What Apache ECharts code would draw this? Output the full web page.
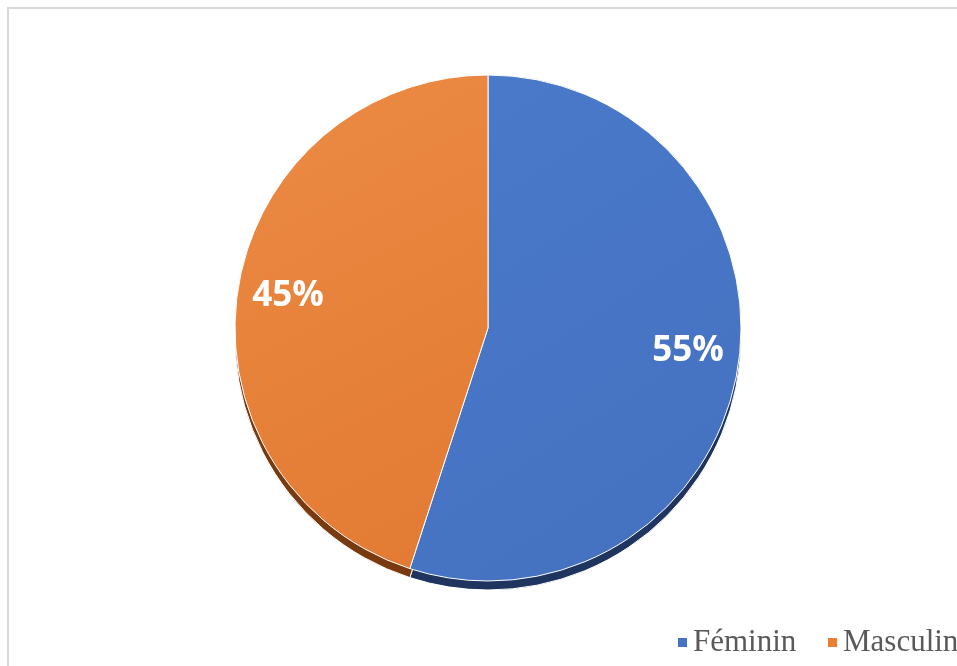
<!DOCTYPE html>
<html>
<head>
<meta charset="utf-8">
<script src="https://cdn.jsdelivr.net/npm/echarts@6/dist/echarts.min.js"></script>
<style>
  html, body { margin: 0; padding: 0; background: #fff; }
  #pie { width: 957px; height: 666px; }
</style>
</head>
<body>
<div id="pie"></div>
<script>
// data
let categories = ['Féminin', 'Masculin']
let values = [55, 45]
let legendColors = ['#4472c4', '#ed7d31']
let topColors = [
    ['#4b7acb', '#4470bf'],
    ['#ec8a44', '#e27a32']
]
let sideColors = ['#1f3560', '#7a3a10']

let chart = echarts.init(document.querySelector('#pie'))

let topData = categories.map(function (c, i) {
    return {
        name: c,
        value: values[i],
        itemStyle: {
            color: new echarts.graphic.LinearGradient(0, 0, 1, 1, [
                { offset: 0, color: topColors[i][0] },
                { offset: 1, color: topColors[i][1] }
            ])
        }
    }
})
let sideData = categories.map(function (c, i) {
    return { name: c, value: values[i], itemStyle: { color: sideColors[i] } }
})
// 55% sits a bit higher in the original: add an empty line under it
let labelData = categories.map(function (c, i) {
    let d = { name: c, value: values[i] }
    if (i === 0) d.label = { formatter: '{d}%\n{s|}' }
    return d
})

let legendText = {
    fontFamily: 'Liberation Serif',
    fontSize: 31,
    color: '#595959'
}
let legendLeft = [671, 821]

let option = {
    backgroundColor: '#ffffff',
    animation: false,
    graphic: [{
        type: 'rect',
        shape: { x: 8, y: 8, width: 1000, height: 700 },
        style: { fill: 'none', stroke: '#d9d9d9', lineWidth: 2 },
        silent: true
    }],
    // one legend per item so the last one can run off the edge like the original
    legend: categories.map(function (c, i) {
        return {
            data: [{ name: c, itemStyle: { color: legendColors[i] } }],
            left: legendLeft[i],
            top: 622,
            icon: 'rect',
            itemWidth: 11,
            itemHeight: 11,
            textStyle: legendText
        }
    }),
    series: [
        {
            // bottom edge (3D side)
            type: 'pie',
            silent: true,
            center: [488, 337],
            radius: [0, 253],
            startAngle: 90,
            data: sideData,
            label: { show: false },
            labelLine: { show: false },
            itemStyle: { borderColor: '#ffffff', borderWidth: 1 },
            z: 1
        },
        {
            type: 'pie',
            silent: true,
            center: [488, 328],
            radius: [0, 253],
            startAngle: 90,
            data: topData,
            label: { show: false },
            labelLine: { show: false },
            itemStyle: { borderColor: '#ffffff', borderWidth: 1 },
            z: 2
        },
        {
            // labels only
            type: 'pie',
            silent: true,
            center: [488, 328],
            radius: [146, 253],
            startAngle: 90,
            data: labelData,
            itemStyle: { color: 'rgba(0,0,0,0)' },
            label: {
                show: true,
                position: 'inside',
                formatter: '{d}%',
                color: '#ffffff',
                fontFamily: 'Open Sans',
                fontWeight: 'bold',
                fontSize: 35,
                rich: {
                    s: { height: 18, lineHeight: 18 }
                }
            },
            labelLine: { show: false },
            z: 3
        }
    ]
}

chart.setOption(option)
</script>
</body>
</html>
